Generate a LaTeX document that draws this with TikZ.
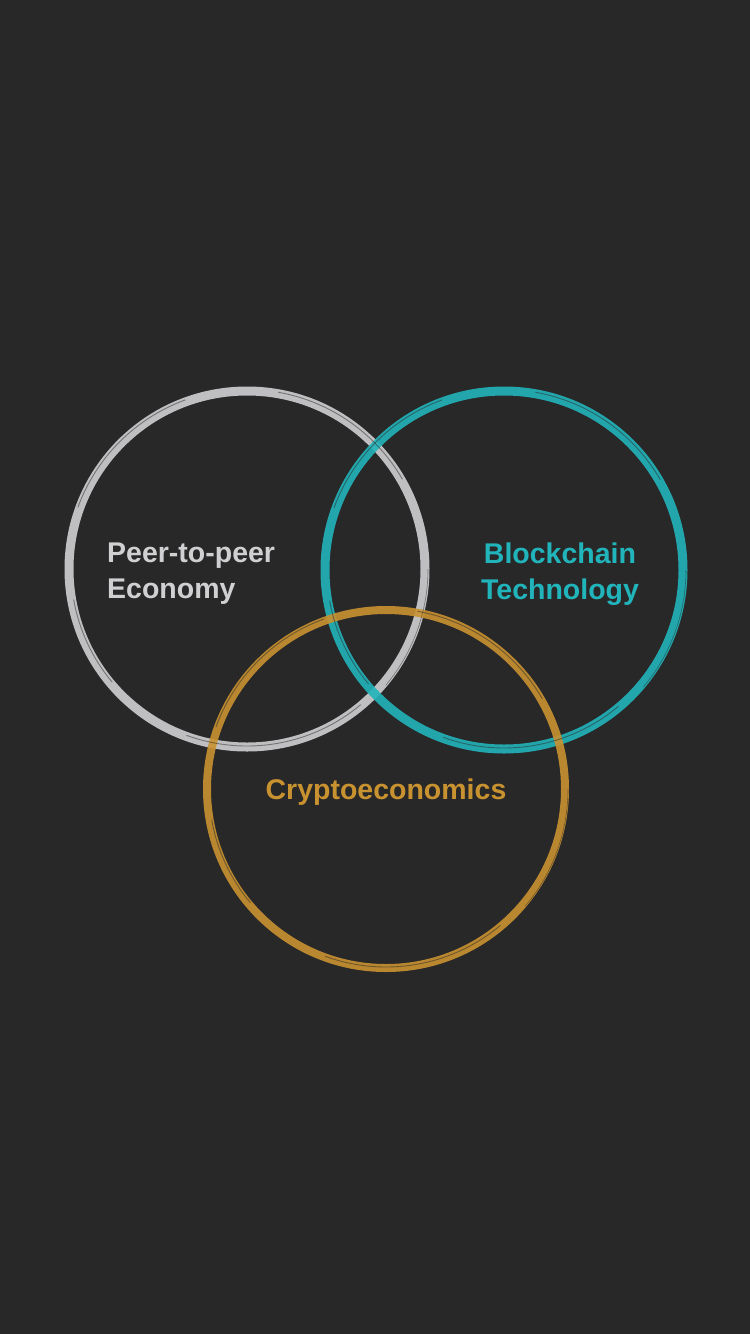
\documentclass[tikz,border=0pt]{standalone}
\usepackage{fontspec}
\setmainfont{Liberation Sans}
\definecolor{bg}{HTML}{282828}
\definecolor{ringwhite}{HTML}{D0D0D2}
\definecolor{ringteal}{HTML}{22B4BB}
\definecolor{ringgold}{HTML}{C99230}
\begin{document}
\begin{tikzpicture}[x=1pt,y=-1pt,
  ring/.style={line width=9pt, opacity=0.9},
  streak/.style={draw=bg, line width=0.9pt, opacity=0.5},
  label/.style={font=\fontsize{28.5}{36}\selectfont\bfseries, inner sep=0pt}]
\fill[bg] (0,0) rectangle (750,1334);
\useasboundingbox (0,0) rectangle (750,1334);
\coordinate (cw) at (247,569);
\coordinate (ct) at (504,570);
\coordinate (cg) at (386,789);
% rings
\draw[ring, ringwhite] (cw) circle[radius=178];
\draw[ring, ringteal] (ct) circle[radius=179];
\draw[ring, ringgold, line width=8pt] (cg) circle[radius=179];
% brush streaks
\foreach \c/\r in {cw/178, ct/179, cg/179} {
  \draw[streak] ([shift={(200:\r+2)}]\c) arc[start angle=200, end angle=250, radius=\r+2];
  \draw[streak] ([shift={(50:\r-1)}]\c) arc[start angle=50, end angle=110, radius=\r-1];
  \draw[streak] ([shift={(280:\r+1.5)}]\c) arc[start angle=280, end angle=330, radius=\r+1.5];
  \draw[streak] ([shift={(140:\r-2)}]\c) arc[start angle=140, end angle=170, radius=\r-2];
  \draw[streak, line width=0.6pt] ([shift={(0:\r+3)}]\c) arc[start angle=0, end angle=40, radius=\r+3];
}
% labels
\node[label, text=ringwhite, anchor=west, align=left] (p2p) at (107,574) {Peer-to-peer\\Economy};
\node[label, text=ringteal, align=center] (bt) at (560,574) {Blockchain\\Technology};
\node[label, text=ringgold] (ce) at (386,792) {Cryptoeconomics};
\end{tikzpicture}
\end{document}
